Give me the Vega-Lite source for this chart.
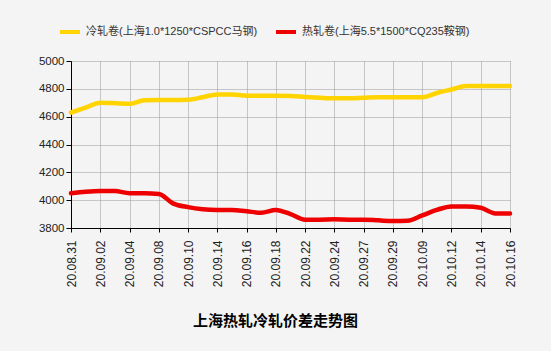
{
  "$schema": "https://vega.github.io/schema/vega-lite/v6.json",
  "autosize": "none",
  "width": 439,
  "height": 167,
  "padding": {"left": 71, "top": 61, "right": 41, "bottom": 123},
  "background": "#F4F4F4",
  "datasets": {
    "prices": [
      {"date": "20.08.31", "cold": 4630, "hot": 4050},
      {"date": "20.09.01", "cold": 4665, "hot": 4060},
      {"date": "20.09.02", "cold": 4700, "hot": 4065},
      {"date": "20.09.03", "cold": 4697, "hot": 4065},
      {"date": "20.09.04", "cold": 4692, "hot": 4050},
      {"date": "20.09.07", "cold": 4718, "hot": 4050},
      {"date": "20.09.08", "cold": 4720, "hot": 4045},
      {"date": "20.09.09", "cold": 4720, "hot": 3975},
      {"date": "20.09.10", "cold": 4722, "hot": 3950},
      {"date": "20.09.11", "cold": 4740, "hot": 3935},
      {"date": "20.09.14", "cold": 4760, "hot": 3930},
      {"date": "20.09.15", "cold": 4760, "hot": 3930},
      {"date": "20.09.16", "cold": 4750, "hot": 3920},
      {"date": "20.09.17", "cold": 4750, "hot": 3910},
      {"date": "20.09.18", "cold": 4750, "hot": 3930},
      {"date": "20.09.21", "cold": 4748, "hot": 3900},
      {"date": "20.09.22", "cold": 4742, "hot": 3860},
      {"date": "20.09.23", "cold": 4736, "hot": 3860},
      {"date": "20.09.24", "cold": 4732, "hot": 3862},
      {"date": "20.09.25", "cold": 4732, "hot": 3860},
      {"date": "20.09.27", "cold": 4736, "hot": 3860},
      {"date": "20.09.28", "cold": 4740, "hot": 3855},
      {"date": "20.09.29", "cold": 4740, "hot": 3850},
      {"date": "20.09.30", "cold": 4740, "hot": 3852},
      {"date": "20.10.09", "cold": 4740, "hot": 3890},
      {"date": "20.10.10", "cold": 4770, "hot": 3930},
      {"date": "20.10.12", "cold": 4795, "hot": 3955},
      {"date": "20.10.13", "cold": 4820, "hot": 3955},
      {"date": "20.10.14", "cold": 4820, "hot": 3945},
      {"date": "20.10.15", "cold": 4820, "hot": 3905},
      {"date": "20.10.16", "cold": 4820, "hot": 3905}
    ]
  },
  "data": {"name": "prices"},
  "transform": [
    {"fold": ["cold", "hot"], "as": ["key", "price"]},
    {"calculate": "datum.key === 'cold' ? '冷轧卷(上海1.0*1250*CSPCC马钢)' : '热轧卷(上海5.5*1500*CQ235鞍钢)'", "as": "series"}
  ],
  "mark": {"type": "line", "interpolate": "monotone", "strokeWidth": 4.5, "strokeCap": "round", "strokeJoin": "round"},
  "encoding": {
    "x": {
      "field": "date",
      "type": "ordinal",
      "scale": {"type": "point", "padding": 0},
      "axis": {
        "values": ["20.08.31","20.09.02","20.09.04","20.09.08","20.09.10","20.09.14","20.09.16","20.09.18","20.09.22","20.09.24","20.09.27","20.09.29","20.10.09","20.10.12","20.10.14","20.10.16"],
        "labelAngle": 270,
        "labelAlign": "right",
        "labelBaseline": "middle",
        "labelFontSize": 12,
        "labelFont": "Liberation Sans",
        "labelColor": "#222",
        "labelPadding": 8,
        "tickSize": 4,
        "tickColor": "#000",
        "domainColor": "#000",
        "grid": true,
        "gridColor": "#999",
        "gridDash": [1, 1],
        "title": "上海热轧冷轧价差走势图",
        "titleFont": "Noto Sans CJK SC",
        "titleFontSize": 15,
        "titleFontWeight": "bold",
        "titleColor": "#000",
        "titleX": 204,
        "titleY": 97,
        "titleAlign": "center",
        "titleBaseline": "alphabetic"
      }
    },
    "y": {
      "field": "price",
      "type": "quantitative",
      "scale": {"domain": [3800, 5000], "nice": false, "zero": false},
      "axis": {
        "values": [3800, 4000, 4200, 4400, 4600, 4800, 5000],
        "format": "d",
        "labelFontSize": 11.5,
        "labelFont": "Liberation Sans",
        "labelColor": "#222",
        "labelPadding": 2,
        "tickSize": 5,
        "tickColor": "#000",
        "domainColor": "#000",
        "grid": true,
        "gridColor": "#999",
        "gridDash": [1, 1],
        "title": null
      }
    },
    "color": {
      "field": "series",
      "type": "nominal",
      "scale": {
        "domain": ["冷轧卷(上海1.0*1250*CSPCC马钢)", "热轧卷(上海5.5*1500*CQ235鞍钢)"],
        "range": ["#FFD400", "#EE0000"]
      },
      "legend": {
        "title": null,
        "orient": "none",
        "legendX": -13,
        "legendY": -41,
        "direction": "horizontal",
        "symbolType": "stroke",
        "symbolSize": 400,
        "symbolStrokeWidth": 4,
        "labelFont": "Liberation Sans, Noto Sans CJK SC",
        "labelFontSize": 11,
        "labelColor": "#333",
        "labelLimit": 0,
        "columnPadding": 10,
        "labelOffset": 4
      }
    }
  },
  "config": {
    "view": {"stroke": null}
  }
}
